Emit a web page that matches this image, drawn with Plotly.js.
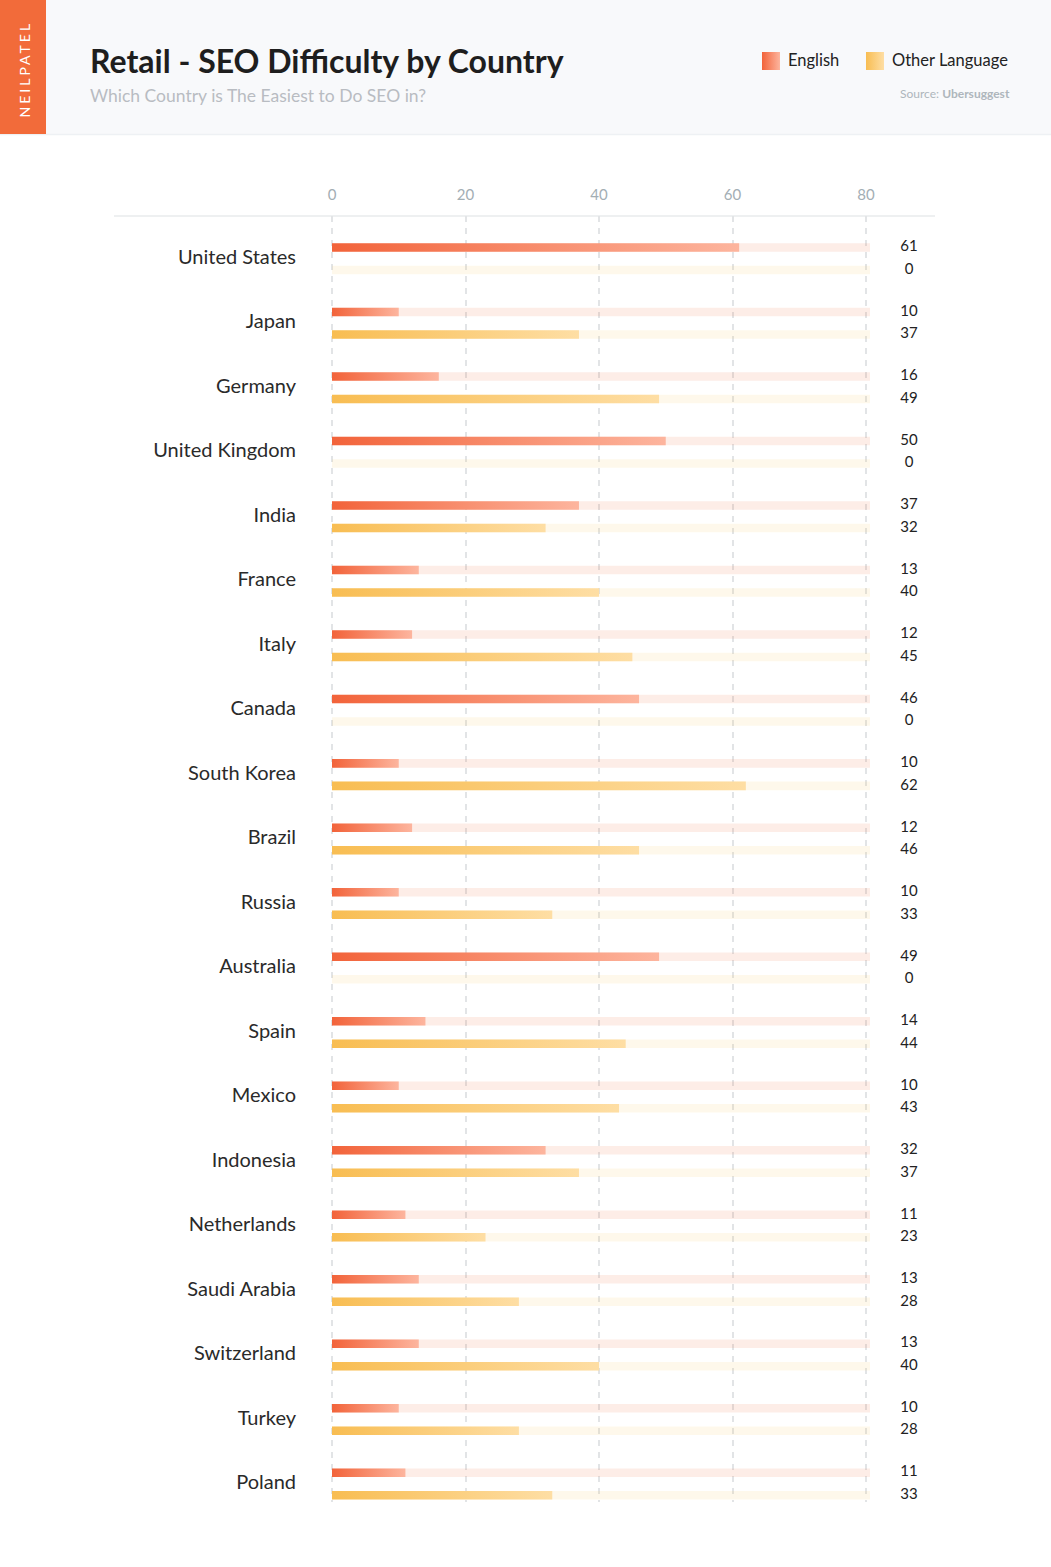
<!DOCTYPE html>
<html><head><meta charset="utf-8">
<script src="https://cdn.plot.ly/plotly-3.0.1.min.js"></script>
<style>html,body{margin:0;padding:0;background:#fff}#chart{width:1051px;height:1567px}</style>
</head><body><div id="chart"></div>
<script>
const countries = ["United States","Japan","Germany","United Kingdom","India","France","Italy","Canada","South Korea","Brazil","Russia","Australia","Spain","Mexico","Indonesia","Netherlands","Saudi Arabia","Switzerland","Turkey","Poland"];
const englishValues = [61,10,16,50,37,13,12,46,10,12,10,49,14,10,32,11,13,13,10,11];
const otherValues   = [0,37,49,0,32,40,45,0,62,46,33,0,44,43,37,23,28,40,28,33];
const xTicks = [0,20,40,60,80];
const trackMax = 80.6;

const W = 1051, H = 1567;
const L = 329, R = 935, T = 216, B = 1502;
const X0 = 332;               // pixel of value 0
const pxPerUnit = 6.675;
const px = x => (x - L) / (R - L);
const py = y => (B - y) / (B - T);
const xMin = (L - X0) / pxPerUnit;
const xMax = (R - X0) / pxPerUnit;
const off = 0.1745, bw = 0.132;
const idx = countries.map((c, i) => i);
const engY = idx.map(i => i - off);
const othY = idx.map(i => i + off);
const ENG = '#f26b3b', OTH = '#f9c35d';
const FONT = 'Lato, "Open Sans", sans-serif';
const valX = (909 - X0) / pxPerUnit;

const traces = [
  {type:'bar', orientation:'h', x: idx.map(() => trackMax), y: engY, width: bw,
   marker:{color:'rgba(242,107,58,0.12)'}, hoverinfo:'skip', showlegend:false},
  {type:'bar', orientation:'h', x: idx.map(() => trackMax), y: othY, width: bw,
   marker:{color:'rgba(249,195,92,0.12)'}, hoverinfo:'skip', showlegend:false},
  {type:'bar', orientation:'h', x: englishValues, y: engY, width: bw, name:'English',
   marker:{color: ENG}, showlegend:false},
  {type:'bar', orientation:'h', x: otherValues, y: othY, width: bw, name:'Other Language',
   marker:{color: OTH}, showlegend:false},
  {type:'scatter', mode:'text', x: idx.map(() => valX), y: engY,
   text: englishValues.map(String), textposition:'middle center', cliponaxis:false,
   textfont:{family: FONT, size:15, color:'#222'}, hoverinfo:'skip', showlegend:false},
  {type:'scatter', mode:'text', x: idx.map(() => valX), y: othY,
   text: otherValues.map(String), textposition:'middle center', cliponaxis:false,
   textfont:{family: FONT, size:15, color:'#222'}, hoverinfo:'skip', showlegend:false}
];

const shapes = [
  {type:'rect', xref:'paper', yref:'paper', x0:px(0), x1:px(W), y0:py(0), y1:py(134), fillcolor:'#f8f9fb', line:{width:0}, layer:'below'},
  {type:'line', xref:'paper', yref:'paper', x0:px(0), x1:px(W), y0:py(134.5), y1:py(134.5), line:{color:'#eef1f4', width:1.5}, layer:'below'},
  {type:'rect', xref:'paper', yref:'paper', x0:px(0), x1:px(46), y0:py(0), y1:py(134), fillcolor:'#f26b3a', line:{width:0}, layer:'below'},
  {type:'line', xref:'paper', yref:'paper', x0:px(114), x1:px(935), y0:py(216), y1:py(216), line:{color:'#e9ebed', width:1.5}, layer:'below'},
  {type:'rect', xref:'paper', yref:'paper', x0:px(762), x1:px(780), y0:py(52), y1:py(70), fillcolor:ENG, line:{width:0}},
  {type:'rect', xref:'paper', yref:'paper', x0:px(866), x1:px(884), y0:py(52), y1:py(70), fillcolor:OTH, line:{width:0}}
];

const annotations = [
  {xref:'paper', yref:'paper', x:px(24), y:py(69), text:'NEILPATEL', textangle:-90, showarrow:false,
   font:{family: FONT, size:14, color:'#ffffff'}, xanchor:'center', yanchor:'middle'},
  {xref:'paper', yref:'paper', x:px(88), y:py(60), text:'<b>Retail - SEO Difficulty by Country</b>', showarrow:false,
   font:{family: FONT, size:32, color:'#1e1e1e'}, xanchor:'left', yanchor:'middle'},
  {xref:'paper', yref:'paper', x:px(88), y:py(96), text:'Which Country is The Easiest to Do SEO in?', showarrow:false,
   font:{family: FONT, size:17.5, color:'#b8bcc2'}, xanchor:'left', yanchor:'middle'},
  {xref:'paper', yref:'paper', x:px(786), y:py(60.5), text:'English', showarrow:false,
   font:{family: FONT, size:16.5, color:'#222'}, xanchor:'left', yanchor:'middle'},
  {xref:'paper', yref:'paper', x:px(890), y:py(60.5), text:'Other Language', showarrow:false,
   font:{family: FONT, size:16.5, color:'#222'}, xanchor:'left', yanchor:'middle'},
  {xref:'paper', yref:'paper', x:px(1012), y:py(93), text:'Source: <b>Ubersuggest</b>', showarrow:false,
   font:{family: FONT, size:12, color:'#aeb6bc'}, xanchor:'right', yanchor:'middle'}
];

const layout = {
  width: W, height: H,
  margin: {l: L, r: W - R, t: T, b: H - B, pad: 0},
  paper_bgcolor: '#ffffff', plot_bgcolor: 'rgba(0,0,0,0)',
  barmode: 'overlay', showlegend: false,
  font: {family: FONT},
  xaxis: {side:'top', range:[xMin, xMax], tickvals: xTicks, ticktext: xTicks.map(String),
          tickfont:{family: FONT, size:15, color:'#a3aeb4'}, ticks:'', ticklabelstandoff: 12,
          showgrid:true, gridcolor:'#e2e4e6', griddash:'6px,6px', gridwidth:2,
          zeroline:false, showline:false, fixedrange:true},
  yaxis: {range:[19.28, -0.663], tickvals: idx.map(i => i - 0.03), ticktext: countries,
          tickfont:{family: FONT, size:20, color:'#2a2a2a'}, ticks:'', ticklabelstandoff: 32,
          showgrid:false, zeroline:false, showline:false, fixedrange:true},
  shapes, annotations
};

Plotly.newPlot('chart', traces, layout, {staticPlot:true}).then(gd => {
  const svgNS = 'http://www.w3.org/2000/svg';
  const svg = gd.querySelector('svg.main-svg');
  let defs = svg.querySelector('defs');
  if (!defs) { defs = document.createElementNS(svgNS, 'defs'); svg.insertBefore(defs, svg.firstChild); }
  function grad(id, c1, c2) {
    const g = document.createElementNS(svgNS, 'linearGradient');
    g.setAttribute('id', id); g.setAttribute('x1','0'); g.setAttribute('x2','1'); g.setAttribute('y1','0'); g.setAttribute('y2','0');
    [[0,c1],[1,c2]].forEach(([o,c]) => { const s = document.createElementNS(svgNS,'stop'); s.setAttribute('offset', o); s.setAttribute('stop-color', c); g.appendChild(s); });
    defs.appendChild(g);
  }
  grad('gEng', '#f2633a', '#fdb59e');
  grad('gOth', '#f8bd52', '#fedea4');
  gd.querySelectorAll('path').forEach(p => {
    const f = (p.style.fill || '').replace(/\s/g,'');
    if (f === 'rgb(242,107,59)') p.style.fill = 'url(#gEng)';
    else if (f === 'rgb(249,195,93)') p.style.fill = 'url(#gOth)';
  });
  gd.querySelectorAll('.annotation-text').forEach(t => {
    if (t.textContent === 'NEILPATEL') t.style.letterSpacing = '3px';
  });
});
</script>
</body></html>
